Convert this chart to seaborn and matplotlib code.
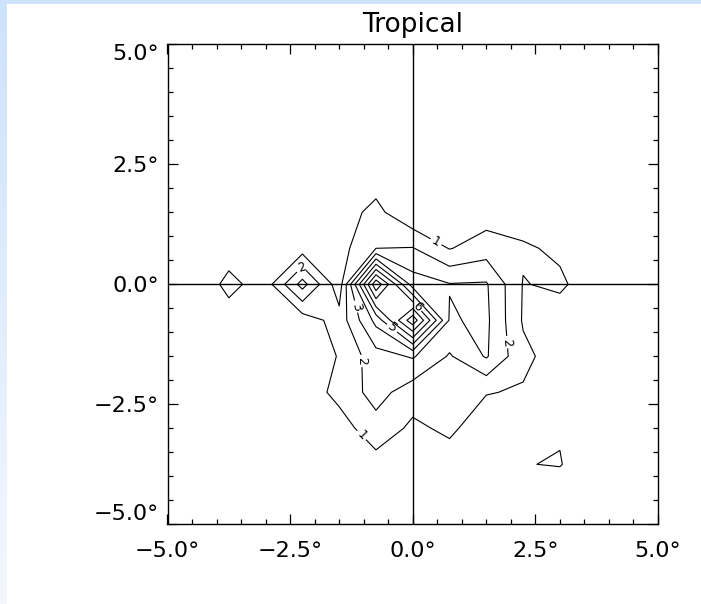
import numpy as np
import matplotlib
matplotlib.use("Agg")
import matplotlib.pyplot as plt
from matplotlib.patches import Rectangle
from matplotlib.ticker import FixedLocator, MultipleLocator
from matplotlib.colors import LinearSegmentedColormap
import seaborn as sns

# ---------------- data ----------------
grid_x = [-5.25, -4.5, -3.75, -3.0, -2.25, -1.5, -0.75, 0.0, 0.75, 1.5, 2.25, 3.0, 3.75, 4.5, 5.25]
grid_y = [5.25, 4.5, 3.75, 3.0, 2.25, 1.5, 0.75, 0.0, -0.75, -1.5, -2.25, -3.0, -3.75, -4.5, -5.25]

density = [
    [0.1, 0.1, 0.2, 0.1, 0.2, 0.1, 0.2, 0.1, 0.2, 0.1, 0.1, 0.2, 0.1, 0.1, 0.1],
    [0.1, 0.2, 0.1, 0.2, 0.1, 0.2, 0.1, 0.2, 0.1, 0.2, 0.1, 0.1, 0.2, 0.1, 0.1],
    [0.2, 0.1, 0.2, 0.1, 0.2, 0.3, 0.2, 0.3, 0.2, 0.1, 0.2, 0.1, 0.1, 0.2, 0.1],
    [0.1, 0.2, 0.1, 0.2, 0.2, 0.3, 0.4, 0.2, 0.3, 0.2, 0.1, 0.2, 0.1, 0.1, 0.1],
    [0.2, 0.1, 0.2, 0.3, 0.2, 0.4, 0.5, 0.3, 0.2, 0.3, 0.2, 0.1, 0.2, 0.1, 0.1],
    [0.1, 0.2, 0.3, 0.2, 0.3, 0.5, 1.3, 0.1, 0.3, 0.5, 0.4, 0.3, 0.2, 0.1, 0.1],
    [0.2, 0.3, 0.5, 0.6, 0.55, 0.6, 2.0, 2.05, 0.95, 1.5, 1.15, 0.8, 0.3, 0.2, 0.1],
    [0.3, 0.1, 1.3, 0.5, 3.4, 0.4, 8.8, 3.5, 3.05, 3.1, 0.95, 1.2, 0.3, 0.2, 0.2],
    [0.2, 0.3, 0.5, 0.6, 0.45, 1.4, 4.3, 8.7, 2.9, 3.2, 0.9, 0.4, 0.3, 0.2, 0.1],
    [0.1, 0.2, 0.3, 0.3, 0.4, 1.05, 2.6, 3.1, 1.9, 3.1, 1.25, 0.5, 0.2, 0.1, 0.1],
    [0.2, 0.1, 0.2, 0.3, 0.4, 1.3, 2.4, 1.45, 1.1, 1.05, 0.9, 0.4, 0.3, 0.2, 0.1],
    [0.1, 0.2, 0.1, 0.3, 0.35, 0.55, 1.6, 0.8, 1.2, 0.4, 0.8, 0.92, 0.2, 0.1, 0.1],
    [0.2, 0.1, 0.2, 0.1, 0.2, 0.3, 0.6, 0.3, 0.5, 0.3, 0.97, 1.05, 0.3, 0.2, 0.1],
    [0.1, 0.2, 0.1, 0.2, 0.1, 0.2, 0.3, 0.2, 0.3, 0.2, 0.3, 0.3, 0.2, 0.1, 0.1],
    [0.1, 0.1, 0.2, 0.1, 0.2, 0.1, 0.2, 0.1, 0.2, 0.1, 0.1, 0.2, 0.1, 0.1, 0.1],
]

contour_levels = [1, 2, 3, 4, 5, 6, 7, 8]

tick_values = [-5.0, -2.5, 0.0, 2.5, 5.0]
tick_labels = ["\u22125.0\u00b0", "\u22122.5\u00b0", "0.0\u00b0", "2.5\u00b0", "5.0\u00b0"]

title_text = "Tropical"

# contour label anchors (x, y)
label_spots = [
    (0.5, 0.93),
    (-1.0, -3.1),
    (-2.3, 0.38),
    (-1.14, -1.6),
    (2.0, -1.2),
    (-1.1, -0.45),
    (-0.45, -0.95),
    (0.1, -0.45),
]

# ---------------- figure ----------------
sns.set_theme(style="ticks")
plt.rcParams["font.family"] = ["DejaVu Sans"]

fig = plt.figure(figsize=(7.01, 6.04), dpi=100)
fig.patch.set_facecolor("white")

# light blue frame strips
bg = fig.add_axes([0, 0, 7 / 701, 1])
grad = np.linspace(0, 1, 256).reshape(-1, 1)
cmap = LinearSegmentedColormap.from_list("frame", ["#cde2fb", "#f4f8fe"])
bg.imshow(grad, aspect="auto", cmap=cmap, extent=[0, 1, 0, 1], origin="upper")
bg.axis("off")
fig.add_artist(Rectangle((0, 1 - 4 / 604), 1, 4 / 604, transform=fig.transFigure,
                         facecolor="#cde2fb", edgecolor="none"))

ax = fig.add_axes([167.5 / 701, 1 - 524.3 / 604, (658 - 167.5) / 701, (524.3 - 44.3) / 604])
ax.set_facecolor("white")

X, Y = np.meshgrid(np.array(grid_x), np.array(grid_y))
Z = np.array(density)
cs = ax.contour(X, Y, Z, levels=contour_levels, colors="black", linewidths=0.8)

ax.clabel(cs, manual=label_spots, fmt="%d", fontsize=9,
          inline=True, inline_spacing=2, colors="black")

ax.axhline(0, color="black", lw=1.0)
ax.axvline(0, color="black", lw=1.0)

ax.set_xlim(-5, 5)
ax.set_ylim(-5, 5)
ax.xaxis.set_major_locator(FixedLocator(tick_values))
ax.yaxis.set_major_locator(FixedLocator(tick_values))
ax.xaxis.set_minor_locator(MultipleLocator(0.5))
ax.yaxis.set_minor_locator(MultipleLocator(0.5))
ax.set_xticklabels(tick_labels)
ax.set_yticklabels(tick_labels)
ax.tick_params(which="both", direction="in", top=True, right=True, width=0.9, color="black",
               labelcolor="black")
ax.tick_params(which="major", length=7)
ax.tick_params(which="minor", length=3.5)
ax.tick_params(axis="x", which="major", pad=12, labelsize=16)
ax.tick_params(axis="y", which="major", pad=6, labelsize=16)
for sp in ax.spines.values():
    sp.set_color("black")
    sp.set_linewidth(1.0)

ylabs = ax.get_yticklabels()
ylabs[0].set_va("bottom")
ylabs[-1].set_va("top")

ax.set_title(title_text, fontsize=19, pad=9, color="black")

fig.savefig("out.png", dpi=100, facecolor="white")
